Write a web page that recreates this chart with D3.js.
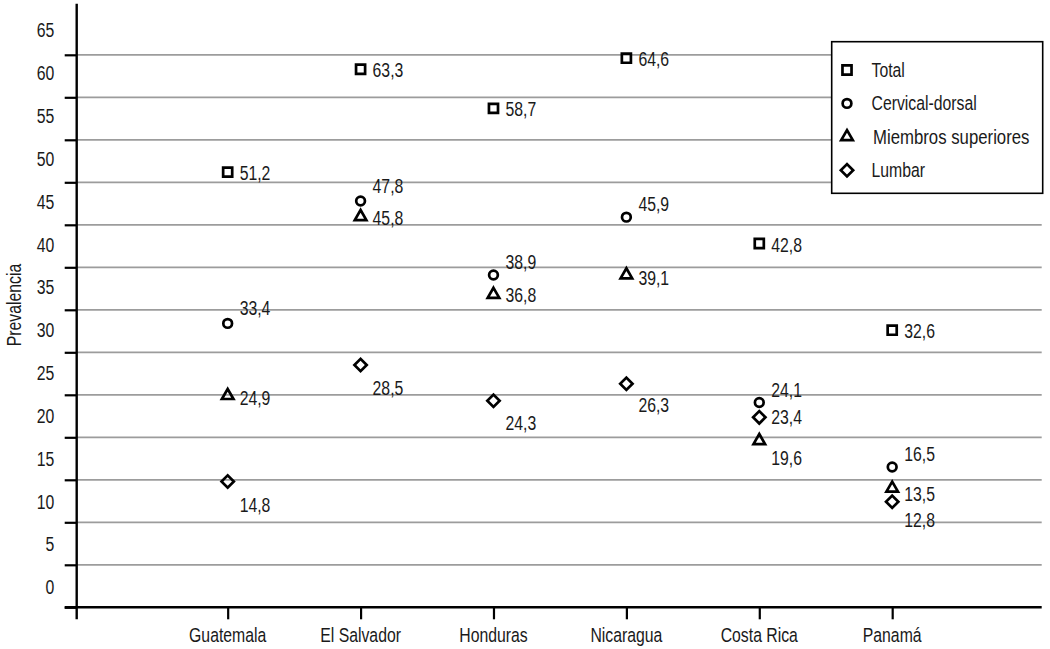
<!DOCTYPE html>
<html>
<head>
<meta charset="utf-8">
<script src="https://cdn.jsdelivr.net/npm/d3@7"></script>
<style>
  html, body { margin: 0; padding: 0; background: #fff; }
  svg { display: block; }
  text { font-family: "Liberation Sans", Arial, sans-serif; font-size: 19.5px; fill: #1a1a1a; }
</style>
</head>
<body>
<svg id="chart" width="1050" height="649"></svg>
<script>
// ---- data ----
const categories = ["Guatemala", "El Salvador", "Honduras", "Nicaragua", "Costa Rica", "Panamá"];
const seriesNames = ["Total", "Cervical-dorsal", "Miembros superiores", "Lumbar"];
const total          = [51.2, 63.3, 58.7, 64.6, 42.8, 32.6];
const cervicalDorsal = [33.4, 47.8, 38.9, 45.9, 24.1, 16.5];
const miembrosSup    = [24.9, 45.8, 36.8, 39.1, 19.6, 13.5];
const lumbar         = [14.8, 28.5, 24.3, 26.3, 23.4, 12.8];
const yTickLabels    = [0, 5, 10, 15, 20, 25, 30, 35, 40, 45, 50, 55, 60, 65];

// ---- layout / style (not data) ----
const markerNudge = [
  [0, 0, 0, 0, 0, 0],
  [0, 0, 0.2, 0, 0, 0],
  [0, 0.15, 0, 0, 0, 0.5],
  [0, 0, 0, 0, -1.05, -0.38]
];
const labelDy = [
  [1, 1, 1, 1, 1, 1],
  [-15, -15, -13, -13, -12, -13],
  [2, 1, 0, 3, 17, 6],
  [23, 23, 22, 21, 0, 18]
];
const NARROW = 0.81;

const svg = d3.select("#chart");
const axisX0 = 76.7, axisX1 = 1041.7, axisY0 = 607.3;

const y = d3.scaleLinear().domain([0, 71]).range([axisY0, axisY0 - 71 * 8.5]);
const x = d3.scaleLinear().domain([-1.136, 6.125]).range([axisX0, axisX1]);
const yLab = d3.scaleLinear().domain([0, 65]).range([587.2, 30.3]);

const seriesData = [total, cervicalDorsal, miembrosSup, lumbar];

function narrowText(parent, tx, ty, str, anchor, dy, rot, sx) {
  const g = parent.append("g")
    .attr("transform", `translate(${tx},${ty})${rot ? ` rotate(${rot})` : ""} scale(${sx || NARROW},1)`);
  g.append("text").attr("text-anchor", anchor || "start").attr("dy", dy || "0.36em").text(str);
  return g;
}

// gridlines
const gridVals = yTickLabels.filter(v => v > 0);
svg.append("g").selectAll("line").data(gridVals).join("line")
  .attr("x1", axisX0).attr("x2", axisX1)
  .attr("y1", d => y(d)).attr("y2", d => y(d))
  .attr("stroke", "#9c9c9c").attr("stroke-width", 1.8);

// y axis
const yAxis = d3.axisLeft(y).tickValues(yTickLabels).tickSize(12).tickSizeOuter(0).tickFormat("");
const gy = svg.append("g").attr("transform", `translate(${axisX0},0)`).call(yAxis);
gy.select(".domain").remove();
gy.selectAll(".tick line").attr("stroke", "#000").attr("stroke-width", 2.2);
svg.append("line").attr("x1", axisX0).attr("x2", axisX0)
  .attr("y1", y(71)).attr("y2", axisY0 + 12).attr("stroke", "#000").attr("stroke-width", 2.4);

const gyl = svg.append("g");
yTickLabels.forEach(v => narrowText(gyl, axisX0 - 22.4, yLab(v), v, "end"));

// x axis
const xAxis = d3.axisBottom(x).tickValues(d3.range(categories.length))
  .tickSize(12).tickSizeOuter(0).tickFormat("");
const gx = svg.append("g").attr("transform", `translate(0,${axisY0})`).call(xAxis);
gx.select(".domain").remove();
gx.selectAll(".tick line").attr("stroke", "#000").attr("stroke-width", 2.2);
svg.append("line").attr("x1", axisX0 - 12).attr("x2", axisX1)
  .attr("y1", axisY0).attr("y2", axisY0).attr("stroke", "#000").attr("stroke-width", 2.4);
const gxl = svg.append("g");
categories.forEach((c, i) => narrowText(gxl, x(i), 635, c, "middle"));

// y title
narrowText(svg, 13.5, 305, "Prevalencia", "middle", "0.36em", -90);

// marker symbols
const symbols = [
  { type: d3.symbolSquare, size: 82, rot: 0 },
  { type: d3.symbolCircle, size: 60, rot: 0 },
  { type: d3.symbolTriangle, size: 58, rot: 0 },
  { type: d3.symbolSquare, size: 76, rot: 45 }
];

function drawSymbol(g, s, cx, cy) {
  g.append("path")
    .attr("d", d3.symbol().type(s.type).size(s.size)())
    .attr("transform", `translate(${cx},${cy}) rotate(${s.rot})`)
    .attr("fill", "none").attr("stroke", "#000").attr("stroke-width", 2.7)
    .attr("stroke-linejoin", "miter");
}

const fmt = v => d3.format(".1f")(v).replace(".", ",");

seriesData.forEach((vals, si) => {
  const g = svg.append("g");
  vals.forEach((v, ci) => {
    const cx = x(ci), cy = y(v + markerNudge[si][ci]);
    drawSymbol(g, symbols[si], cx, cy);
    narrowText(g, cx + 12, cy + labelDy[si][ci], fmt(v), "start");
  });
});

// legend
const lg = svg.append("g");
lg.append("rect").attr("x", 831.7).attr("y", 41.7).attr("width", 211).attr("height", 151.6)
  .attr("fill", "#fff").attr("stroke", "#000").attr("stroke-width", 1.6);
seriesNames.forEach((name, i) => {
  const ly = 70 + i * 33.4;
  drawSymbol(lg, symbols[i], 847, ly);
  narrowText(lg, i === 2 ? 873 : 871.5, ly, name, "start", "0.36em", 0, i === 2 ? 0.86 : NARROW);
});
</script>
</body>
</html>
